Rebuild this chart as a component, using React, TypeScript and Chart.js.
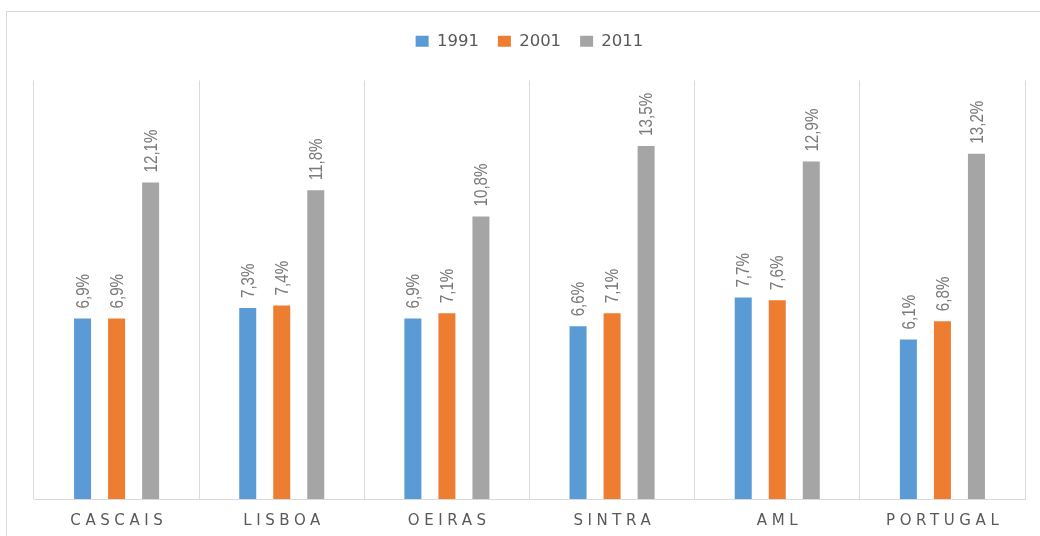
import React, { useEffect, useRef } from "react";
import { Chart, registerables } from "chart.js";

Chart.register(...registerables);

const categories = ["CASCAIS", "LISBOA", "OEIRAS", "SINTRA", "AML", "PORTUGAL"];
const seriesNames = ["1991", "2001", "2011"];
const values1991 = [6.9, 7.3, 6.9, 6.6, 7.7, 6.1];
const values2001 = [6.9, 7.4, 7.1, 7.1, 7.6, 6.8];
const values2011 = [12.1, 11.8, 10.8, 13.5, 12.9, 13.2];
const colors = ["#5B9BD5", "#ED7D31", "#A5A5A5"];

const fmt = (v: number) => v.toFixed(1).replace(".", ",") + "%";

export default function App() {
  const ref = useRef<HTMLCanvasElement | null>(null);

  useEffect(() => {
    if (!ref.current) return;
    const decor = {
      id: "decor",
      beforeInit(chart: any) {
        const legend = chart.legend;
        if (legend) {
          const orig = legend.fit;
          legend.fit = function () {
            orig.call(this);
            this.height += 21;
          };
        }
      },
      beforeDraw(chart: any) {
        const ctx = chart.ctx;
        ctx.save();
        ctx.fillStyle = "#ffffff";
        ctx.fillRect(0, 0, chart.width, chart.height);
        ctx.strokeStyle = "#d9d9d9";
        ctx.lineWidth = 1;
        ctx.strokeRect(6.5, 11.5, 3000, 3000);
        ctx.restore();
      },
      afterDatasetsDraw(chart: any) {
        const ctx = chart.ctx;
        chart.data.datasets.forEach((ds: any, i: number) => {
          const meta = chart.getDatasetMeta(i);
          meta.data.forEach((bar: any, j: number) => {
            ctx.save();
            ctx.translate(bar.x, bar.y - 10);
            ctx.rotate(-Math.PI / 2);
            ctx.scale(0.8, 1);
            ctx.font = "19px 'Liberation Sans'";
            ctx.fillStyle = "#7a7a7a";
            ctx.textAlign = "left";
            ctx.textBaseline = "middle";
            ctx.fillText(fmt(ds.data[j]), 0, 1);
            ctx.restore();
          });
        });
      },
      afterDraw(chart: any) {
        const ctx = chart.ctx;
        const xs = chart.scales.x;
        const spacing = 4.6;
        ctx.save();
        ctx.font = "15px 'DejaVu Sans'";
        ctx.fillStyle = "#595959";
        ctx.textBaseline = "middle";
        ctx.textAlign = "left";
        categories.forEach((c, i) => {
          (ctx as any).letterSpacing = "0px";
          const w0 = ctx.measureText(c).width;
          const w = w0 + spacing * (c.length - 1);
          (ctx as any).letterSpacing = spacing + "px";
          const cx = xs.getPixelForValue(i);
          ctx.fillText(c, cx - w / 2, 521);
        });
        (ctx as any).letterSpacing = "0px";
        ctx.restore();
      },
    };

    const chart = new Chart(ref.current, {
      type: "bar",
      data: {
        labels: categories,
        datasets: [values1991, values2001, values2011].map((d, i) => ({
          label: seriesNames[i],
          data: d,
          backgroundColor: colors[i],
          borderWidth: 0,
          categoryPercentage: 0.618,
          barPercentage: 0.5,
        })),
      },
      options: {
        responsive: false,
        animation: false,
        devicePixelRatio: 1,
        layout: { padding: { top: 14, left: 34, right: 15, bottom: 37 } },
        plugins: {
          legend: {
            position: "top",
            labels: {
              boxWidth: 13,
              boxHeight: 11,
              padding: 19,
              color: "#595959",
              font: { family: "'DejaVu Sans'", size: 16.5 },
            },
          },
          tooltip: { enabled: false },
        },
        scales: {
          x: {
            offset: true,
            ticks: { display: false },
            grid: { color: "#d9d9d9", lineWidth: 1, drawTicks: false, offset: true },
            border: { color: "#d9d9d9", width: 1 },
          },
          y: {
            display: false,
            min: 0,
            max: 16,
          },
        },
      },
      plugins: [decor],
    });
    return () => chart.destroy();
  }, []);

  return (
    <div style={{ position: "absolute", left: 0, top: 0, width: 1040, height: 536, background: "#fff" }}>
      <canvas ref={ref} width={1040} height={536} style={{ display: "block" }} />
    </div>
  );
}
